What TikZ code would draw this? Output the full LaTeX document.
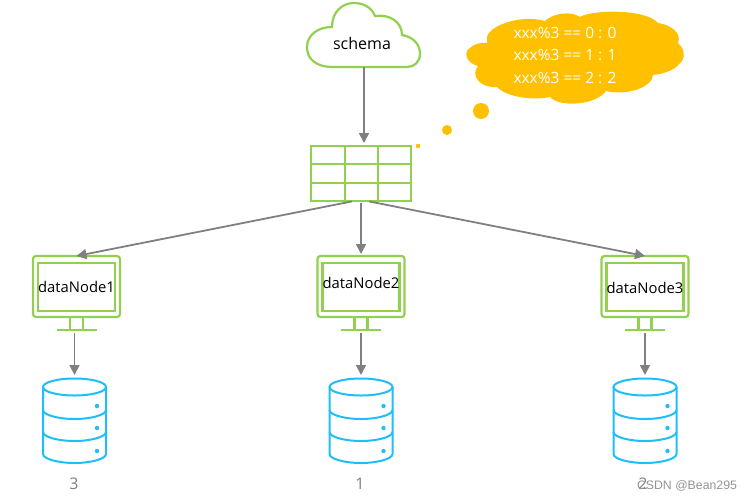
\documentclass[tikz,border=0pt]{standalone}
\usepackage{fontspec}
\setmainfont{Open Sans}
\newfontfamily\markfont{Liberation Sans}
\usetikzlibrary{arrows.meta}
\definecolor{framegreen}{RGB}{146,208,80}
\definecolor{dbblue}{RGB}{30,190,250}
\definecolor{bubbleyellow}{RGB}{255,192,0}
\definecolor{linegray}{RGB}{128,128,128}
\tikzset{
  greenline/.style = {draw = framegreen, line width = 2.2pt},
  blueline/.style = {draw = dbblue, line width = 2pt},
  arrowline/.style = {draw = linegray, line width = 1.8pt, -{Triangle[length = 10pt, width = 10pt]}},
  nodetext/.style = {font = \fontsize{14.8}{18}\selectfont, text = black, inner sep = 0pt},
  cloudtext/.style = {font = \fontsize{16}{18}\selectfont, text = black, inner sep = 0pt},
  bubbletext/.style = {font = \fontsize{15.5}{18}\selectfont, text = white, inner sep = 0pt},
  numtext/.style = {font = \fontsize{16}{18}\selectfont, text = linegray, inner sep = 0pt},
  hidden/.style = {inner sep = 0pt, outer sep = 0pt}
}
\begin{document}
\begin{tikzpicture}[x = 1pt, y = -1pt]
\useasboundingbox (0,0) rectangle (752,501);
% cloud on top
\draw [greenline, fill = white] (333,67) .. controls (316,67) and (307,59) .. (307,47) .. controls (307,35) and (318,27) .. (332,27) .. controls (332,12) and (342,3) .. (354,3) .. controls (364,3) and (372,8) .. (375,16) .. controls (390,14) and (402,22) .. (402,35) .. controls (414,37) and (420,45) .. (420,54) .. controls (420,62) and (414,67) .. (407,67) -- cycle;
\node [cloudtext, hidden, minimum height = 48pt] (schema) at (362,43) {schema};
% table
\node [hidden, minimum width = 100pt, minimum height = 55pt] (tableGrid) at (361,173.5) {};
\draw [greenline] (tableGrid.north west) rectangle (tableGrid.south east);
\foreach \x in {345,378} \draw [greenline] (\x,146) -- (\x,201);
\foreach \y in {164,183} \draw [greenline] (311,\y) -- (411,\y);
\draw [arrowline, shorten > = 3pt] ([xshift = 2pt]schema.south) -- ([xshift = 3pt]tableGrid.north);
% bubble
\fill [bubbleyellow] (487,37) .. controls (489,26) and (520,14) .. (545,21) .. controls (552,14) and (570,10) .. (580,17) .. controls (590,10) and (645,8) .. (658,23) .. controls (672,25) and (682,34) .. (678,43) .. controls (686,50) and (685,60) .. (679,64) .. controls (674,71) and (662,74) .. (653,75) .. controls (652,88) and (625,96) .. (606,91) .. controls (596,105) and (560,108) .. (550,97) .. controls (530,101) and (505,96) .. (497,87) .. controls (480,88) and (470,76) .. (478,66) .. controls (466,63) and (463,52) .. (470,48) .. controls (474,44) and (481,42) .. (487,43) -- cycle;
\node [bubbletext] (ruleA) at (565,33) {xxx\%3 == 0 : 0};
\node [bubbletext] (ruleB) at (565,55) {xxx\%3 == 1 : 1};
\node [bubbletext] (ruleC) at (565,78) {xxx\%3 == 2 : 2};
\fill [bubbleyellow] (481,111) circle (8);
\fill [bubbleyellow] (447,130) circle (5);
\fill [bubbleyellow] (418,146) circle (2.3);
% monitors and disks
\foreach \n/\x/\ty/\dbx/\num/\numx in {1/76.5/287/74.5/3/74, 2/361/283/361/1/360, 3/645/288/645/2/643}
{
  \node [hidden, minimum width = 87pt, minimum height = 61pt] (monitor\n) at (\x,286.5) {};
  \draw [greenline, rounded corners = 3pt] (monitor\n.north west) rectangle (monitor\n.south east);
  \draw [greenline] (\x-38.5,263) rectangle (\x+38.5,311);
  \draw [greenline] (\x-6.5,317) -- (\x-6.5,330) (\x+6.5,317) -- (\x+6.5,330);
  \draw [greenline, line width = 1.6pt] (\x-20,330) -- (\x+20,330);
  \node [nodetext] (dataNode\n) at (\x,\ty) {dataNode\n};
  \node [hidden, minimum width = 63pt, minimum height = 85pt] (disk\n) at (\dbx,420.5) {};
  \draw [blueline, fill = white] (\dbx,387) ellipse (31.5 and 8.5);
  \draw [blueline] (\dbx-31.5,387) -- (\dbx-31.5,454) .. controls (\dbx-31.5,459) and (\dbx-16,463) .. (\dbx,463) .. controls (\dbx+16,463) and (\dbx+31.5,459) .. (\dbx+31.5,454) -- (\dbx+31.5,387);
  \foreach \y in {410,432}
    \draw [blueline] (\dbx-31.5,\y) .. controls (\dbx-31.5,\y+5) and (\dbx-16,\y+9) .. (\dbx,\y+9) .. controls (\dbx+16,\y+9) and (\dbx+31.5,\y+5) .. (\dbx+31.5,\y);
  \foreach \y in {406,428,451} \fill [dbblue] (\dbx+22.5,\y) circle (2.2);
  \coordinate (foot\n) at (\dbx,333);
  \draw [arrowline, shorten > = 3pt] (foot\n) -- (disk\n.north);
  \node [numtext] (count\n) at (\numx,484) {\num};
}
% arrows from table
\draw [arrowline, shorten < = 2pt] ([xshift = -7pt]tableGrid.south) -- (monitor1.north);
\draw [arrowline, shorten < = 2pt, shorten > = 2pt] (tableGrid.south) -- (monitor2.north);
\draw [arrowline, shorten < = 2pt] ([xshift = 6pt]tableGrid.south) -- (monitor3.north);
% watermark
\node [hidden, font = \markfont\fontsize{12.3}{14}\selectfont, text = linegray!85, anchor = east] (mark) at (737,486) {CSDN @Bean295};
\end{tikzpicture}
\end{document}
